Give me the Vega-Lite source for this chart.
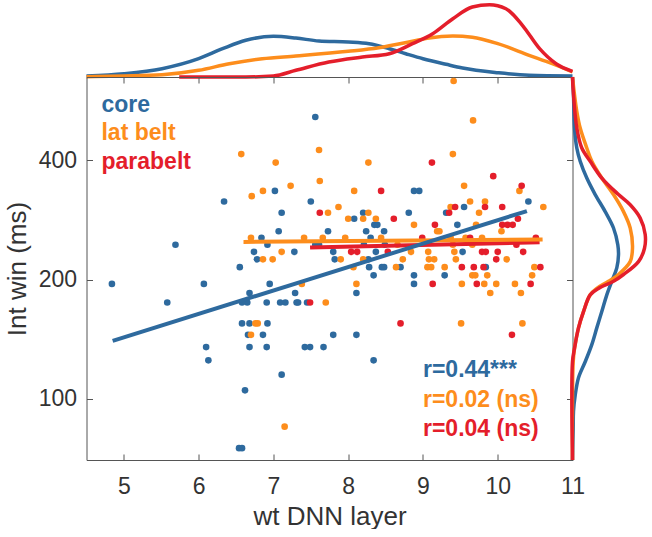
{
  "$schema": "https://vega.github.io/schema/vega-lite/v6.json",
  "padding": {"left": 3.5, "top": -3, "right": 0, "bottom": 0},
  "background": "white",
  "config": {"font": "Liberation Sans", "view": {"stroke": null}},
  "spacing": 0,
  "bounds": "flush",
  "datasets": {
    "points": [
      {"area": "core", "layer": 4.84, "ms": 195}, {"area": "core", "layer": 5.69, "ms": 245}, {"area": "core", "layer": 6.34, "ms": 315}, {"area": "core", "layer": 5.58, "ms": 175},
      {"area": "core", "layer": 6.07, "ms": 195}, {"area": "core", "layer": 6.10, "ms": 135}, {"area": "core", "layer": 6.13, "ms": 125}, {"area": "core", "layer": 6.55, "ms": 215},
      {"area": "core", "layer": 6.68, "ms": 185}, {"area": "core", "layer": 6.58, "ms": 175}, {"area": "core", "layer": 6.65, "ms": 175}, {"area": "core", "layer": 6.58, "ms": 155},
      {"area": "core", "layer": 6.68, "ms": 155}, {"area": "core", "layer": 6.66, "ms": 145}, {"area": "core", "layer": 6.68, "ms": 135}, {"area": "core", "layer": 6.62, "ms": 105},
      {"area": "core", "layer": 6.54, "ms": 75}, {"area": "core", "layer": 6.58, "ms": 75}, {"area": "core", "layer": 6.74, "ms": 235}, {"area": "core", "layer": 7.56, "ms": 515},
      {"area": "core", "layer": 7.02, "ms": 335}, {"area": "core", "layer": 7.50, "ms": 315}, {"area": "core", "layer": 7.11, "ms": 295}, {"area": "core", "layer": 8.20, "ms": 295},
      {"area": "core", "layer": 8.08, "ms": 285}, {"area": "core", "layer": 8.35, "ms": 275}, {"area": "core", "layer": 8.39, "ms": 275}, {"area": "core", "layer": 7.07, "ms": 265},
      {"area": "core", "layer": 7.73, "ms": 265}, {"area": "core", "layer": 8.24, "ms": 265}, {"area": "core", "layer": 8.48, "ms": 265}, {"area": "core", "layer": 6.84, "ms": 255},
      {"area": "core", "layer": 8.30, "ms": 255}, {"area": "core", "layer": 6.92, "ms": 245}, {"area": "core", "layer": 7.56, "ms": 245}, {"area": "core", "layer": 7.61, "ms": 245},
      {"area": "core", "layer": 8.21, "ms": 245}, {"area": "core", "layer": 8.49, "ms": 245}, {"area": "core", "layer": 7.28, "ms": 235}, {"area": "core", "layer": 7.80, "ms": 235},
      {"area": "core", "layer": 8.37, "ms": 235}, {"area": "core", "layer": 6.78, "ms": 225}, {"area": "core", "layer": 7.82, "ms": 225}, {"area": "core", "layer": 8.27, "ms": 225},
      {"area": "core", "layer": 8.81, "ms": 295}, {"area": "core", "layer": 8.28, "ms": 215}, {"area": "core", "layer": 8.45, "ms": 215}, {"area": "core", "layer": 8.48, "ms": 215},
      {"area": "core", "layer": 8.70, "ms": 215}, {"area": "core", "layer": 8.34, "ms": 205}, {"area": "core", "layer": 6.95, "ms": 195}, {"area": "core", "layer": 7.29, "ms": 185},
      {"area": "core", "layer": 8.11, "ms": 185}, {"area": "core", "layer": 6.91, "ms": 175}, {"area": "core", "layer": 7.09, "ms": 175}, {"area": "core", "layer": 7.16, "ms": 175},
      {"area": "core", "layer": 7.31, "ms": 175}, {"area": "core", "layer": 7.33, "ms": 175}, {"area": "core", "layer": 7.45, "ms": 175}, {"area": "core", "layer": 6.92, "ms": 155},
      {"area": "core", "layer": 6.86, "ms": 145}, {"area": "core", "layer": 7.80, "ms": 145}, {"area": "core", "layer": 8.11, "ms": 145}, {"area": "core", "layer": 6.91, "ms": 135},
      {"area": "core", "layer": 7.42, "ms": 135}, {"area": "core", "layer": 7.49, "ms": 135}, {"area": "core", "layer": 7.67, "ms": 135}, {"area": "core", "layer": 8.34, "ms": 125},
      {"area": "core", "layer": 7.11, "ms": 115}, {"area": "core", "layer": 8.88, "ms": 335}, {"area": "core", "layer": 8.95, "ms": 335}, {"area": "core", "layer": 10.41, "ms": 315},
      {"area": "core", "layer": 9.55, "ms": 305}, {"area": "core", "layer": 9.31, "ms": 295}, {"area": "core", "layer": 9.46, "ms": 275}, {"area": "core", "layer": 9.53, "ms": 235},
      {"area": "core", "layer": 9.84, "ms": 215}, {"area": "core", "layer": 8.88, "ms": 205}, {"area": "core", "layer": 9.29, "ms": 205}, {"area": "core", "layer": 8.88, "ms": 195},
      {"area": "lat belt", "layer": 6.57, "ms": 415}, {"area": "lat belt", "layer": 6.71, "ms": 325}, {"area": "lat belt", "layer": 7.61, "ms": 425}, {"area": "lat belt", "layer": 7.03, "ms": 395},
      {"area": "lat belt", "layer": 8.27, "ms": 395}, {"area": "lat belt", "layer": 7.62, "ms": 355}, {"area": "lat belt", "layer": 7.23, "ms": 345}, {"area": "lat belt", "layer": 6.86, "ms": 335},
      {"area": "lat belt", "layer": 8.08, "ms": 335}, {"area": "lat belt", "layer": 7.87, "ms": 305}, {"area": "lat belt", "layer": 7.73, "ms": 295}, {"area": "lat belt", "layer": 8.27, "ms": 295},
      {"area": "lat belt", "layer": 8.00, "ms": 285}, {"area": "lat belt", "layer": 8.20, "ms": 285}, {"area": "lat belt", "layer": 8.37, "ms": 285}, {"area": "lat belt", "layer": 6.70, "ms": 255},
      {"area": "lat belt", "layer": 7.41, "ms": 255}, {"area": "lat belt", "layer": 7.66, "ms": 255}, {"area": "lat belt", "layer": 7.96, "ms": 255}, {"area": "lat belt", "layer": 8.44, "ms": 255},
      {"area": "lat belt", "layer": 8.66, "ms": 245}, {"area": "lat belt", "layer": 7.11, "ms": 235}, {"area": "lat belt", "layer": 6.86, "ms": 225}, {"area": "lat belt", "layer": 6.99, "ms": 225},
      {"area": "lat belt", "layer": 7.90, "ms": 225}, {"area": "lat belt", "layer": 8.20, "ms": 225}, {"area": "lat belt", "layer": 8.73, "ms": 225}, {"area": "lat belt", "layer": 8.64, "ms": 215},
      {"area": "lat belt", "layer": 8.07, "ms": 215}, {"area": "lat belt", "layer": 7.38, "ms": 195}, {"area": "lat belt", "layer": 8.11, "ms": 195}, {"area": "lat belt", "layer": 7.70, "ms": 175},
      {"area": "lat belt", "layer": 6.76, "ms": 155}, {"area": "lat belt", "layer": 6.79, "ms": 155}, {"area": "lat belt", "layer": 6.70, "ms": 145}, {"area": "lat belt", "layer": 7.15, "ms": 85},
      {"area": "lat belt", "layer": 9.41, "ms": 635}, {"area": "lat belt", "layer": 9.67, "ms": 505}, {"area": "lat belt", "layer": 9.40, "ms": 415}, {"area": "lat belt", "layer": 9.55, "ms": 345},
      {"area": "lat belt", "layer": 10.29, "ms": 335}, {"area": "lat belt", "layer": 9.63, "ms": 315}, {"area": "lat belt", "layer": 9.83, "ms": 315}, {"area": "lat belt", "layer": 9.37, "ms": 305},
      {"area": "lat belt", "layer": 10.61, "ms": 305}, {"area": "lat belt", "layer": 9.75, "ms": 295}, {"area": "lat belt", "layer": 8.88, "ms": 275}, {"area": "lat belt", "layer": 9.71, "ms": 275},
      {"area": "lat belt", "layer": 9.19, "ms": 265}, {"area": "lat belt", "layer": 9.22, "ms": 265}, {"area": "lat belt", "layer": 10.05, "ms": 265}, {"area": "lat belt", "layer": 9.37, "ms": 255},
      {"area": "lat belt", "layer": 9.57, "ms": 255}, {"area": "lat belt", "layer": 9.79, "ms": 255}, {"area": "lat belt", "layer": 9.40, "ms": 245}, {"area": "lat belt", "layer": 9.66, "ms": 245},
      {"area": "lat belt", "layer": 8.84, "ms": 235}, {"area": "lat belt", "layer": 9.07, "ms": 235}, {"area": "lat belt", "layer": 9.42, "ms": 235}, {"area": "lat belt", "layer": 9.08, "ms": 225},
      {"area": "lat belt", "layer": 9.15, "ms": 225}, {"area": "lat belt", "layer": 9.44, "ms": 225}, {"area": "lat belt", "layer": 10.12, "ms": 225}, {"area": "lat belt", "layer": 9.29, "ms": 215},
      {"area": "lat belt", "layer": 10.49, "ms": 215}, {"area": "lat belt", "layer": 9.66, "ms": 205}, {"area": "lat belt", "layer": 9.70, "ms": 205}, {"area": "lat belt", "layer": 9.86, "ms": 205},
      {"area": "lat belt", "layer": 10.46, "ms": 205}, {"area": "lat belt", "layer": 9.52, "ms": 195}, {"area": "lat belt", "layer": 9.82, "ms": 195}, {"area": "lat belt", "layer": 9.98, "ms": 195},
      {"area": "lat belt", "layer": 10.23, "ms": 195}, {"area": "lat belt", "layer": 9.90, "ms": 185}, {"area": "lat belt", "layer": 10.31, "ms": 185}, {"area": "lat belt", "layer": 9.51, "ms": 155},
      {"area": "lat belt", "layer": 10.33, "ms": 155}, {"area": "lat belt", "layer": 9.06, "ms": 215}, {"area": "lat belt", "layer": 9.11, "ms": 215},
      {"area": "parabelt", "layer": 8.44, "ms": 335}, {"area": "parabelt", "layer": 7.62, "ms": 295}, {"area": "parabelt", "layer": 8.61, "ms": 285}, {"area": "parabelt", "layer": 8.04, "ms": 235},
      {"area": "parabelt", "layer": 8.12, "ms": 235}, {"area": "parabelt", "layer": 8.53, "ms": 235}, {"area": "parabelt", "layer": 7.49, "ms": 175}, {"area": "parabelt", "layer": 8.70, "ms": 155},
      {"area": "parabelt", "layer": 9.12, "ms": 395}, {"area": "parabelt", "layer": 9.94, "ms": 365}, {"area": "parabelt", "layer": 10.32, "ms": 345}, {"area": "parabelt", "layer": 9.43, "ms": 305},
      {"area": "parabelt", "layer": 9.83, "ms": 305}, {"area": "parabelt", "layer": 10.06, "ms": 305}, {"area": "parabelt", "layer": 9.35, "ms": 295}, {"area": "parabelt", "layer": 9.16, "ms": 275},
      {"area": "parabelt", "layer": 10.06, "ms": 275}, {"area": "parabelt", "layer": 10.13, "ms": 275}, {"area": "parabelt", "layer": 10.20, "ms": 275}, {"area": "parabelt", "layer": 10.27, "ms": 285},
      {"area": "parabelt", "layer": 8.99, "ms": 255}, {"area": "parabelt", "layer": 9.63, "ms": 255}, {"area": "parabelt", "layer": 10.51, "ms": 255}, {"area": "parabelt", "layer": 10.25, "ms": 245},
      {"area": "parabelt", "layer": 9.79, "ms": 235}, {"area": "parabelt", "layer": 9.84, "ms": 235}, {"area": "parabelt", "layer": 10.00, "ms": 235}, {"area": "parabelt", "layer": 10.34, "ms": 235},
      {"area": "parabelt", "layer": 9.98, "ms": 225}, {"area": "parabelt", "layer": 9.52, "ms": 215}, {"area": "parabelt", "layer": 9.68, "ms": 215}, {"area": "parabelt", "layer": 9.81, "ms": 215},
      {"area": "parabelt", "layer": 10.57, "ms": 215}, {"area": "parabelt", "layer": 9.13, "ms": 195}, {"area": "parabelt", "layer": 9.72, "ms": 195}, {"area": "parabelt", "layer": 10.44, "ms": 195},
      {"area": "parabelt", "layer": 10.19, "ms": 145}
    ],
    "fits": [
      {"area": "parabelt", "layer": 7.49, "ms": 241}, {"area": "parabelt", "layer": 10.56, "ms": 248.5},
      {"area": "lat belt", "layer": 6.60, "ms": 249}, {"area": "lat belt", "layer": 10.60, "ms": 252.5},
      {"area": "core", "layer": 4.85, "ms": 140}, {"area": "core", "layer": 10.39, "ms": 298}
    ],
    "labels": [
      {"area": "core", "label": "core", "layer": 4.70, "ms": 530},
      {"area": "lat belt", "label": "lat belt", "layer": 4.70, "ms": 450},
      {"area": "parabelt", "label": "parabelt", "layer": 4.70, "ms": 380},
      {"area": "core", "label": "r=0.44***", "layer": 9.0, "ms": 113.4},
      {"area": "lat belt", "label": "r=0.02 (ns)", "layer": 9.0, "ms": 95.2},
      {"area": "parabelt", "label": "r=0.04 (ns)", "layer": 9.0, "ms": 80.4}
    ],
    "topdens": [
      {"area": "core", "layer": 4.5, "density": 1.0}, {"area": "core", "layer": 5.0, "density": 3.3}, {"area": "core", "layer": 5.51, "density": 8.3},
      {"area": "core", "layer": 6.0, "density": 18.3}, {"area": "core", "layer": 6.32, "density": 28.3}, {"area": "core", "layer": 6.63, "density": 36.7},
      {"area": "core", "layer": 7.0, "density": 40.7}, {"area": "core", "layer": 7.3, "density": 39}, {"area": "core", "layer": 7.61, "density": 36},
      {"area": "core", "layer": 8.0, "density": 35}, {"area": "core", "layer": 8.28, "density": 33.3}, {"area": "core", "layer": 8.55, "density": 28.3},
      {"area": "core", "layer": 8.77, "density": 23.3}, {"area": "core", "layer": 9.0, "density": 18.3}, {"area": "core", "layer": 9.31, "density": 12.7},
      {"area": "core", "layer": 9.53, "density": 9}, {"area": "core", "layer": 10.0, "density": 4.3}, {"area": "core", "layer": 10.42, "density": 1.7},
      {"area": "core", "layer": 11.0, "density": 1.0},
      {"area": "lat belt", "layer": 4.5, "density": 0.3}, {"area": "lat belt", "layer": 5.0, "density": 1}, {"area": "lat belt", "layer": 5.51, "density": 2.3},
      {"area": "lat belt", "layer": 6.0, "density": 6.7}, {"area": "lat belt", "layer": 6.41, "density": 13.3}, {"area": "lat belt", "layer": 6.85, "density": 18.3},
      {"area": "lat belt", "layer": 7.3, "density": 21}, {"area": "lat belt", "layer": 8.0, "density": 25.7}, {"area": "lat belt", "layer": 8.41, "density": 29.3},
      {"area": "lat belt", "layer": 8.86, "density": 35.7}, {"area": "lat belt", "layer": 9.08, "density": 39}, {"area": "lat belt", "layer": 9.4, "density": 41},
      {"area": "lat belt", "layer": 9.66, "density": 39.7}, {"area": "lat belt", "layer": 10.0, "density": 33.3}, {"area": "lat belt", "layer": 10.42, "density": 21.7},
      {"area": "lat belt", "layer": 10.73, "density": 13.3}, {"area": "lat belt", "layer": 11.0, "density": 5},
      {"area": "parabelt", "layer": 5.74, "density": 0}, {"area": "parabelt", "layer": 6.63, "density": 0}, {"area": "parabelt", "layer": 7.0, "density": 1},
      {"area": "parabelt", "layer": 7.3, "density": 6.7}, {"area": "parabelt", "layer": 7.74, "density": 15}, {"area": "parabelt", "layer": 8.19, "density": 20},
      {"area": "parabelt", "layer": 8.55, "density": 23.3}, {"area": "parabelt", "layer": 8.86, "density": 33.3}, {"area": "parabelt", "layer": 9.13, "density": 43.3},
      {"area": "parabelt", "layer": 9.4, "density": 58.3}, {"area": "parabelt", "layer": 9.66, "density": 70}, {"area": "parabelt", "layer": 9.89, "density": 72.3},
      {"area": "parabelt", "layer": 10.11, "density": 68.3}, {"area": "parabelt", "layer": 10.33, "density": 51.7}, {"area": "parabelt", "layer": 10.56, "density": 28.3},
      {"area": "parabelt", "layer": 10.78, "density": 13.3}, {"area": "parabelt", "layer": 11.0, "density": 5.7}
    ],
    "rightdens": [
      {"area": "core", "ms": 650, "density": 0}, {"area": "core", "ms": 586, "density": 1}, {"area": "core", "ms": 483, "density": 2},
      {"area": "core", "ms": 430, "density": 4.3}, {"area": "core", "ms": 398, "density": 7.7}, {"area": "core", "ms": 361, "density": 14.3},
      {"area": "core", "ms": 328, "density": 22.7}, {"area": "core", "ms": 297, "density": 32.7}, {"area": "core", "ms": 270, "density": 41},
      {"area": "core", "ms": 245, "density": 45.3}, {"area": "core", "ms": 231, "density": 46}, {"area": "core", "ms": 214, "density": 44.3},
      {"area": "core", "ms": 198, "density": 39.3}, {"area": "core", "ms": 183, "density": 34.3}, {"area": "core", "ms": 166, "density": 29.3},
      {"area": "core", "ms": 151, "density": 24.3}, {"area": "core", "ms": 137, "density": 19.3}, {"area": "core", "ms": 124, "density": 12.7},
      {"area": "core", "ms": 113, "density": 6}, {"area": "core", "ms": 102, "density": 2.7}, {"area": "core", "ms": 93, "density": 1},
      {"area": "core", "ms": 84, "density": 0.7}, {"area": "core", "ms": 70, "density": 0},
      {"area": "lat belt", "ms": 650, "density": 0}, {"area": "lat belt", "ms": 586, "density": 2}, {"area": "lat belt", "ms": 532, "density": 4.3},
      {"area": "lat belt", "ms": 483, "density": 7.7}, {"area": "lat belt", "ms": 430, "density": 14.3}, {"area": "lat belt", "ms": 398, "density": 19.3},
      {"area": "lat belt", "ms": 361, "density": 29.3}, {"area": "lat belt", "ms": 328, "density": 41}, {"area": "lat belt", "ms": 297, "density": 51},
      {"area": "lat belt", "ms": 270, "density": 57.7}, {"area": "lat belt", "ms": 240, "density": 60}, {"area": "lat belt", "ms": 222, "density": 57.7},
      {"area": "lat belt", "ms": 206, "density": 46}, {"area": "lat belt", "ms": 198, "density": 36}, {"area": "lat belt", "ms": 190, "density": 24.3},
      {"area": "lat belt", "ms": 183, "density": 17.7}, {"area": "lat belt", "ms": 166, "density": 11}, {"area": "lat belt", "ms": 151, "density": 6},
      {"area": "lat belt", "ms": 134, "density": 2}, {"area": "lat belt", "ms": 124, "density": 0.7}, {"area": "lat belt", "ms": 102, "density": 0},
      {"area": "lat belt", "ms": 70, "density": 0},
      {"area": "parabelt", "ms": 650, "density": 0}, {"area": "parabelt", "ms": 586, "density": 1}, {"area": "parabelt", "ms": 483, "density": 4.3},
      {"area": "parabelt", "ms": 430, "density": 9.3}, {"area": "parabelt", "ms": 398, "density": 17.7}, {"area": "parabelt", "ms": 361, "density": 29.3},
      {"area": "parabelt", "ms": 328, "density": 46}, {"area": "parabelt", "ms": 309, "density": 57.7}, {"area": "parabelt", "ms": 286, "density": 67.7},
      {"area": "parabelt", "ms": 260, "density": 72.7}, {"area": "parabelt", "ms": 240, "density": 72}, {"area": "parabelt", "ms": 222, "density": 66},
      {"area": "parabelt", "ms": 206, "density": 51}, {"area": "parabelt", "ms": 198, "density": 41}, {"area": "parabelt", "ms": 190, "density": 26},
      {"area": "parabelt", "ms": 183, "density": 17.7}, {"area": "parabelt", "ms": 166, "density": 11}, {"area": "parabelt", "ms": 151, "density": 6},
      {"area": "parabelt", "ms": 134, "density": 2}, {"area": "parabelt", "ms": 124, "density": 0}, {"area": "parabelt", "ms": 70, "density": 0}
    ]
  },
  "vconcat": [
    {
      "width": 486,
      "height": 75,
      "data": {"name": "topdens"},
      "mark": {"type": "line", "strokeWidth": 3.5, "interpolate": "monotone", "clip": false},
      "encoding": {
        "x": {"field": "layer", "type": "quantitative", "scale": {"domain": [4.5, 11], "nice": false, "zero": false}, "axis": null},
        "y": {"field": "density", "type": "quantitative", "scale": {"domain": [0, 75], "nice": false}, "axis": null},
        "color": {"field": "area", "type": "nominal", "scale": {"domain": ["core", "lat belt", "parabelt"], "range": ["#2E6A9E", "#FD8D1C", "#E41E2B"]}, "legend": null}
      }
    },
    {
      "hconcat": [
        {
          "width": 486,
          "height": 383,
          "layer": [
            {
              "data": {"name": "points"},
              "mark": {"type": "circle", "size": 44, "opacity": 1},
              "encoding": {
                "x": {"field": "layer", "type": "quantitative", "scale": {"domain": [4.5, 11], "nice": false, "zero": false},
                  "axis": {"orient": "bottom", "values": [5, 6, 7, 8, 9, 10, 11], "title": "wt DNN layer", "grid": false, "tickSize": -6,
                    "labelPadding": 21, "labelFlush": false, "labelFontSize": 23, "titleFontSize": 26, "titleFontWeight": "normal",
                    "labelColor": "#333333", "titleColor": "#333333", "domainColor": "#555555", "tickColor": "#555555", "titlePadding": 5}},
                "y": {"field": "ms", "type": "quantitative", "scale": {"type": "log", "domain": [70, 650], "nice": false},
                  "axis": {"orient": "left", "values": [100, 200, 400], "title": "Int win (ms)", "grid": false, "tickSize": -6,
                    "labelPadding": 16, "labelFlush": false, "labelFontSize": 23, "titleFontSize": 26, "titleFontWeight": "normal",
                    "labelColor": "#333333", "titleColor": "#333333", "domainColor": "#555555", "tickColor": "#555555", "titlePadding": 8}},
                "color": {"field": "area", "type": "nominal", "scale": {"domain": ["core", "lat belt", "parabelt"], "range": ["#2E6A9E", "#FD8D1C", "#E41E2B"]}, "legend": null}
              }
            },
            {
              "data": {"name": "fits"},
              "mark": {"type": "line", "strokeWidth": 4},
              "encoding": {
                "x": {"field": "layer", "type": "quantitative",
                  "axis": {"orient": "top", "values": [5, 6, 7, 8, 9, 10, 11], "labels": false, "title": null, "grid": false, "tickSize": -6,
                    "domainColor": "#555555", "tickColor": "#555555"}},
                "y": {"field": "ms", "type": "quantitative",
                  "axis": {"orient": "right", "values": [100, 200, 400], "labels": false, "title": null, "grid": false, "tickSize": -6,
                    "domainColor": "#555555", "tickColor": "#555555"}},
                "color": {"field": "area", "type": "nominal", "legend": null}
              }
            },
            {
              "data": {"name": "labels"},
              "mark": {"type": "text", "fontSize": 23, "fontWeight": "bold", "align": "left", "baseline": "alphabetic", "font": "Liberation Sans"},
              "encoding": {
                "x": {"field": "layer", "type": "quantitative", "axis": null},
                "y": {"field": "ms", "type": "quantitative", "axis": null},
                "text": {"field": "label"},
                "color": {"field": "area", "type": "nominal", "legend": null}
              }
            }
          ],
          "resolve": {"axis": {"x": "independent", "y": "independent"}}
        },
        {
          "width": 78,
          "height": 383,
          "data": {"name": "rightdens"},
          "mark": {"type": "line", "strokeWidth": 3.5, "interpolate": "catmull-rom", "clip": false},
          "encoding": {
            "y": {"field": "ms", "type": "quantitative", "scale": {"type": "log", "domain": [70, 650], "nice": false}, "axis": null},
            "x": {"field": "density", "type": "quantitative", "scale": {"domain": [0, 78], "nice": false}, "axis": null},
            "order": {"field": "ms", "type": "quantitative"},
            "color": {"field": "area", "type": "nominal", "scale": {"domain": ["core", "lat belt", "parabelt"], "range": ["#2E6A9E", "#FD8D1C", "#E41E2B"]}, "legend": null}
          }
        }
      ],
      "spacing": 0,
      "bounds": "flush"
    }
  ]
}
